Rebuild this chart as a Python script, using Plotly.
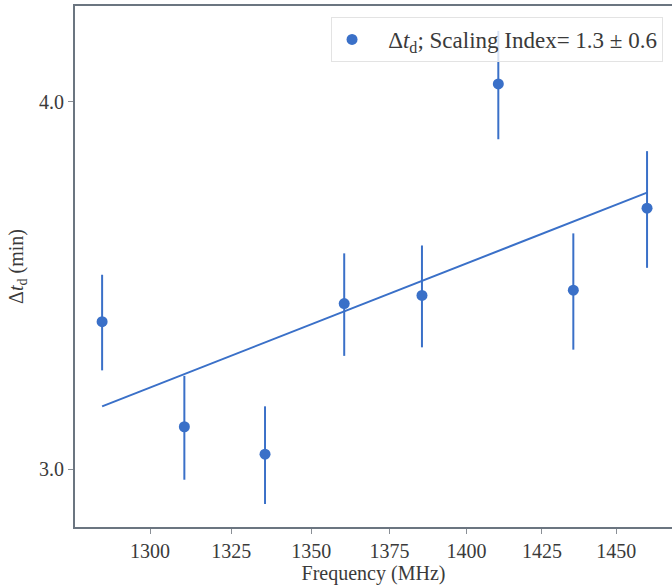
import plotly.graph_objects as go

# Data (log-log axes)
freq_mhz = [1285.5, 1310.5, 1335.5, 1360.5, 1385.5, 1410.5, 1435.5, 1460.5]
delta_td = [3.367, 3.101, 3.035, 3.415, 3.437, 4.056, 3.451, 3.680]
delta_err = [0.126, 0.126, 0.116, 0.137, 0.137, 0.172, 0.157, 0.168]

fit_freq = [1285.5, 1460.5]
fit_td = [3.151, 3.725]

x_ticks = [1300, 1325, 1350, 1375, 1400, 1425, 1450]
y_ticks = [3.0, 4.0]
y_tick_text = ["3.0", "4.0"]

blue = "#3a70c8"
spine = "#6b7580"
font_family = "Liberation Serif, Times New Roman, serif"
text_col = "#3a3a3a"

fig = go.Figure()
fig.add_trace(go.Scatter(
    x=fit_freq, y=fit_td, mode="lines",
    line=dict(color=blue, width=2), showlegend=False, hoverinfo="skip",
))
fig.add_trace(go.Scatter(
    x=freq_mhz, y=delta_td, mode="markers",
    marker=dict(color=blue, size=11),
    error_y=dict(type="data", array=delta_err, visible=True,
                 color=blue, thickness=2, width=0),
    name="\u2002\u2009Δ<i>t</i><sub>d</sub>; Scaling Index= 1.3 ± 0.6",
))

fig.update_layout(
    width=672, height=588,
    margin=dict(l=75, r=0, t=6, b=61),
    paper_bgcolor="white", plot_bgcolor="white",
    font=dict(family=font_family, size=20, color=text_col),
    showlegend=True,
    legend=dict(
        x=0.985, y=0.979, xanchor="right", yanchor="top",
        bgcolor="rgba(255,255,255,0.8)", bordercolor="#e3e3e3", borderwidth=1,
        font=dict(family=font_family, size=23, color=text_col),
    ),
    xaxis=dict(
        type="log", range=[3.106314, 3.167041],
        tickvals=x_ticks, ticktext=[str(v) for v in x_ticks],
        ticks="outside", ticklen=5, tickwidth=1, tickcolor="#8a8f96",
        showline=True, linecolor=spine, linewidth=2, mirror=True,
        showgrid=False, zeroline=False,
        title=dict(text="Frequency (MHz)", standoff=4,
                   font=dict(family=font_family, size=20, color=text_col)),
        tickfont=dict(family=font_family, size=20, color=text_col),
    ),
    yaxis=dict(
        type="log", range=[0.457407, 0.634599],
        tickvals=y_ticks, ticktext=y_tick_text,
        ticks="outside", ticklen=5, tickwidth=1, tickcolor="#8a8f96",
        showline=True, linecolor=spine, linewidth=2, mirror=False,
        showgrid=False, zeroline=False,
        title=dict(text="Δ<i>t</i><sub>d</sub> (min)", standoff=10,
                   font=dict(family=font_family, size=20, color=text_col)),
        tickfont=dict(family=font_family, size=20, color=text_col),
    ),
)

fig.write_html(
    "out.html",
    config={"displayModeBar": False},
    post_script="document.body.style.margin='0';document.body.style.overflow='hidden';",
)
